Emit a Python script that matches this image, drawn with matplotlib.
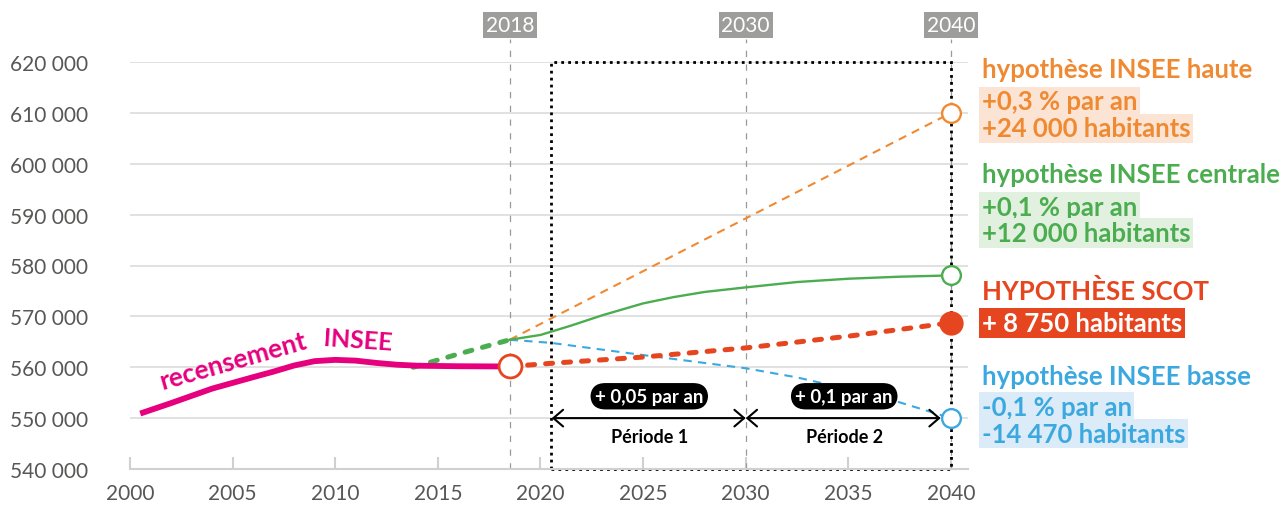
import matplotlib.pyplot as plt
from matplotlib.patches import Rectangle
from matplotlib.ticker import FuncFormatter

plt.rcParams['font.family'] = ['Lato', 'DejaVu Sans']

MAGENTA = '#e6007e'
ORANGE = '#f08a32'
GREEN = '#4bad4f'
RED = '#e6461f'
BLUE = '#3ba9e0'
GREY = '#9d9d9c'
TXT = '#575756'

# recensement INSEE
census_years = [2000.5, 2002, 2004, 2006, 2007, 2008, 2009, 2010, 2011, 2012, 2013, 2014, 2016, 2018.5]
census_pop = [550900, 552950, 555800, 558050, 559150, 560350, 561200, 561450, 561300, 560850, 560500, 560300, 560200, 560150]

# raccord (tendance) vers les projections
link_years = [2013.8, 2016, 2018.5]
link_pop = [560000, 562600, 565400]

# projections
high_years = [2018.5, 2040]
high_pop = [565400, 610000]

central_years = [2018.5, 2020, 2021.5, 2023, 2025, 2026.5, 2028, 2030, 2032.5, 2035, 2037.5, 2040]
central_pop = [565400, 566350, 568200, 570200, 572550, 573800, 574800, 575700, 576750, 577400, 577800, 578050]

low_years = [2018.5, 2020.5, 2025, 2030, 2032.5, 2035, 2037.5, 2040]
low_pop = [565400, 564800, 562400, 559800, 558000, 555700, 553100, 550000]

scot_years = [2018.5, 2020.5, 2025, 2030, 2035, 2040]
scot_pop = [560150, 560770, 562000, 563800, 566100, 568750]

ref_years = [2018.5, 2030, 2040]
ref_labels = ['2018', '2030', '2040']

fig = plt.figure(figsize=(12.87, 5.06), dpi=100)
ax = fig.add_axes([130 / 1287, 36 / 506, 838 / 1287, 407 / 506])
ax.set_xlim(2000, 2040.83)
ax.set_ylim(540000, 620000)

ax.set_yticks(range(540000, 620001, 10000))
ax.set_xticks(range(2000, 2041, 5))
ax.yaxis.set_major_formatter(FuncFormatter(lambda v, p: f"{int(v):,}".replace(",", " ")))
ax.yaxis.grid(True, color='#dcdcdc', lw=1.2)
ax.set_axisbelow(True)
for s in ['top', 'right', 'left']:
    ax.spines[s].set_visible(False)
ax.spines['bottom'].set_color('#d0d0d0')
ax.spines['bottom'].set_linewidth(1.5)
ax.tick_params(axis='x', direction='in', length=9, width=1.5, color='#d0d0d0',
               labelcolor=TXT, labelsize=15, pad=10)
ax.tick_params(axis='y', length=0, labelcolor=TXT, labelsize=15, pad=30)

# lignes de repère verticales
for x, lab in zip(ref_years, ref_labels):
    ax.plot([x, x], [540000, 624500], color='#999999', lw=0.9, ls=(0, (5, 6)),
            clip_on=False, zorder=1)
    ax.text(x, 627300, lab, ha='center', va='center', color='white', fontsize=15,
            bbox=dict(boxstyle='square,pad=0.14', fc=GREY, ec='none'))

# cadre pointillé
ax.add_patch(Rectangle((2020.5, 540000), 19.5, 80000, fill=False, ec='black',
                       lw=2, ls=(0, (1, 1.5)), clip_on=False, zorder=2))

# courbes
ax.plot(high_years, high_pop, color=ORANGE, lw=1.5, ls=(0, (4, 3)), zorder=3)
ax.plot(low_years, low_pop, color=BLUE, lw=1.5, ls=(0, (4, 3)), zorder=3)
ax.plot(central_years, central_pop, color=GREEN, lw=1.7, zorder=3)
ax.plot(link_years, link_pop, color=GREEN, lw=3.6, ls=(0, (1.4, 2.2)),
        dash_capstyle='round', zorder=3)
ax.plot(scot_years, scot_pop, color=RED, lw=3.6, ls=(0, (1.4, 2.2)),
        dash_capstyle='round', zorder=4)
ax.plot(census_years, census_pop, color=MAGENTA, lw=4.2, solid_capstyle='butt', zorder=4)

# points
ax.plot(census_years[-1], census_pop[-1], 'o', ms=16.5, mfc='white', mec=RED, mew=2, zorder=6)
ax.plot(high_years[-1], high_pop[-1], 'o', ms=13.5, mfc='white', mec=ORANGE, mew=1.7, zorder=6, clip_on=False)
ax.plot(central_years[-1], central_pop[-1], 'o', ms=13.5, mfc='white', mec=GREEN, mew=1.7, zorder=6, clip_on=False)
ax.plot(scot_years[-1], scot_pop[-1], 'o', ms=16.5, mfc=RED, mec=RED, zorder=6, clip_on=False)
ax.plot(low_years[-1], low_pop[-1], 'o', ms=13.5, mfc='white', mec=BLUE, mew=1.7, zorder=6, clip_on=False)

# texte recensement
ax.text(2001.56, 555700, 'recensement', color=MAGENTA, fontsize=19, fontweight='bold',
        rotation=16, rotation_mode='anchor', ha='left', va='baseline')
ax.text(2009.4, 564300, 'INSEE', color=MAGENTA, fontsize=18, fontweight='bold',
        rotation=-4, rotation_mode='anchor', ha='left', va='baseline')

# périodes
arrow = dict(arrowstyle='<->,head_length=0.7,head_width=0.6', color='black', lw=1.5,
             shrinkA=0, shrinkB=0, mutation_scale=10)
ax.annotate('', xy=(2020.55, 550000), xytext=(2030, 550000), arrowprops=arrow, zorder=5)
ax.annotate('', xy=(2030, 550000), xytext=(2039.5, 550000), arrowprops=arrow, zorder=5)
ax.text(2025.3, 546300, 'Période 1', ha='center', va='center', fontsize=13, fontweight='bold')
ax.text(2034.8, 546300, 'Période 2', ha='center', va='center', fontsize=13, fontweight='bold')
pill = dict(boxstyle='round,pad=0.25,rounding_size=0.8', fc='black', ec='none')
ax.text(2025.3, 554300, '+ 0,05 par an', ha='center', va='center', color='white',
        fontsize=13.5, fontweight='bold', bbox=pill, zorder=7)
ax.text(2034.8, 554300, '+ 0,1 par an', ha='center', va='center', color='white',
        fontsize=13.5, fontweight='bold', bbox=pill, zorder=7)

# annotations à droite
XT = 2041.5


def label(y, s, color, bg=None, size=18.5):
    kw = {}
    if bg is not None:
        kw['bbox'] = dict(boxstyle='square,pad=0.1', fc=bg, ec='none')
    ax.text(XT, y, s, color=color, fontsize=size, fontweight='bold', ha='left',
            va='center', clip_on=False, **kw)


label(618600, 'hypothèse INSEE haute', ORANGE)
label(612300, '+0,3 % par an', ORANGE, '#fbe4d4')
label(607000, '+24 000 habitants', ORANGE, '#fbe4d4')
label(598000, 'hypothèse INSEE centrale', GREEN)
label(591500, '+0,1 % par an', GREEN, '#e2f0e0')
label(586400, '+12 000 habitants', GREEN, '#e2f0e0')
label(575000, 'HYPOTHÈSE SCOT', RED)
label(568700, '+ 8 750 habitants', 'white', RED)
label(558300, 'hypothèse INSEE basse', BLUE)
label(552200, '-0,1 % par an', BLUE, '#dcebf8')
label(546900, '-14 470 habitants', BLUE, '#dcebf8')

plt.savefig('out.png', dpi=100)
plt.close()
